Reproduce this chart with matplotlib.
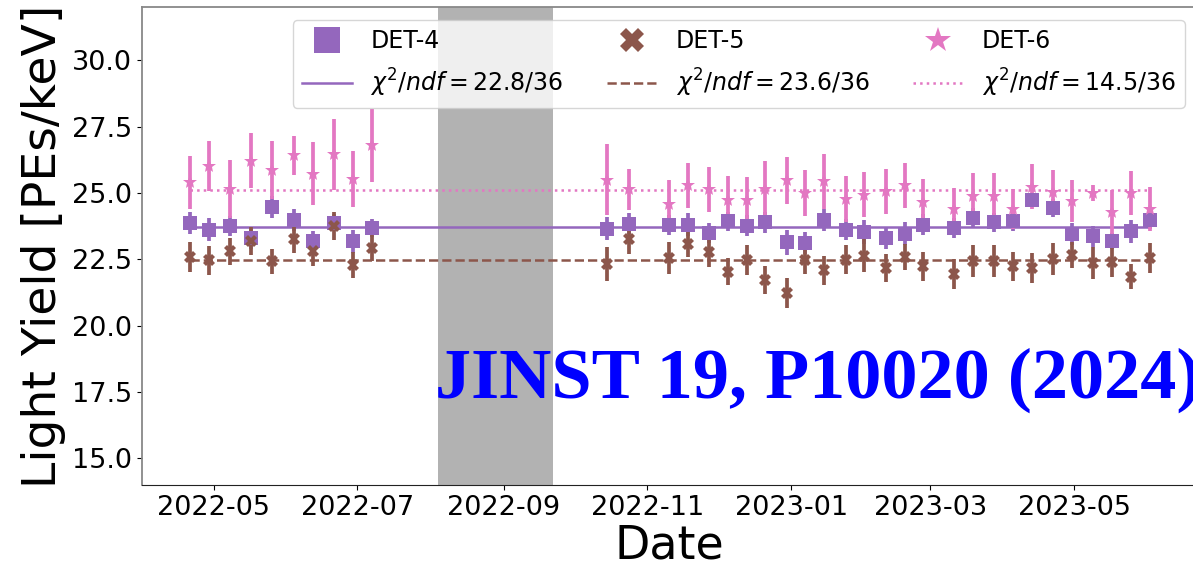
import numpy as np
import pandas as pd
import matplotlib
matplotlib.use('Agg')
from matplotlib import pyplot as plt
import matplotlib.dates as mdates
from matplotlib.lines import Line2D

# measurement dates (two campaigns, gap during the maintenance period)
dates = [
    '2022-04-21', '2022-04-29', '2022-05-08', '2022-05-17', '2022-05-26',
    '2022-06-04', '2022-06-12', '2022-06-21', '2022-06-29', '2022-07-07',
    '2022-10-15', '2022-10-24', '2022-11-10', '2022-11-18', '2022-11-27',
    '2022-12-05', '2022-12-13', '2022-12-21', '2022-12-30', '2023-01-07',
    '2023-01-15', '2023-01-24', '2023-02-01', '2023-02-10', '2023-02-18',
    '2023-02-26', '2023-03-11', '2023-03-19', '2023-03-28', '2023-04-05',
    '2023-04-13', '2023-04-22', '2023-04-30', '2023-05-09', '2023-05-17',
    '2023-05-25', '2023-06-02',
]

det4 = [23.87, 23.62, 23.74, 23.30, 24.47, 23.99, 23.18, 23.87, 23.18, 23.68,
        23.65, 23.84, 23.78, 23.80, 23.49, 23.93, 23.77, 23.89, 23.14, 23.11,
        23.99, 23.62, 23.53, 23.30, 23.46, 23.80, 23.68, 24.06, 23.89, 23.93,
        24.75, 24.43, 23.45, 23.36, 23.18, 23.55, 23.99]
det4_err = [0.41, 0.44, 0.38, 0.40, 0.41, 0.41, 0.38, 0.32, 0.44, 0.35,
            0.44, 0.39, 0.38, 0.44, 0.38, 0.35, 0.38, 0.40, 0.46, 0.42,
            0.41, 0.38, 0.44, 0.42, 0.44, 0.40, 0.38, 0.36, 0.35, 0.36,
            0.24, 0.35, 0.40, 0.38, 0.31, 0.44, 0.35]

det5 = [22.58, 22.46, 22.80, 23.18, 22.42, 23.26, 22.80, 23.74, 22.29, 22.92,
        22.33, 23.26, 22.55, 23.07, 22.76, 22.04, 22.46, 21.73, 21.22, 22.48,
        22.08, 22.48, 22.63, 22.17, 22.58, 22.23, 21.95, 22.42, 22.42, 22.23,
        22.17, 22.51, 22.67, 22.36, 22.38, 21.85, 22.55]
det5_err = [0.57, 0.54, 0.50, 0.52, 0.47, 0.53, 0.57, 0.53, 0.50, 0.50,
            0.63, 0.57, 0.61, 0.48, 0.54, 0.50, 0.57, 0.52, 0.57, 0.55,
            0.55, 0.55, 0.62, 0.54, 0.50, 0.53, 0.57, 0.60, 0.60, 0.55,
            0.57, 0.60, 0.50, 0.60, 0.54, 0.47, 0.57]

det6 = [25.40, 26.03, 25.15, 26.22, 25.86, 26.41, 25.73, 26.45, 25.53, 26.79,
        25.50, 25.13, 24.60, 25.28, 25.13, 24.75, 24.75, 25.15, 25.48, 25.00,
        25.44, 24.77, 24.94, 25.06, 25.28, 24.65, 24.40, 24.90, 24.90, 24.40,
        25.23, 25.03, 24.69, 25.00, 24.27, 25.00, 24.40]
det6_err = [1.00, 0.94, 1.10, 1.04, 1.08, 0.74, 1.18, 1.35, 1.06, 1.37,
            1.33, 0.76, 0.90, 0.86, 0.86, 0.88, 0.86, 1.07, 0.89, 0.86,
            1.04, 0.85, 0.85, 0.84, 0.85, 0.88, 0.80, 0.84, 0.84, 0.76,
            0.84, 0.84, 0.80, 0.31, 0.85, 0.84, 0.84]

# constant fit results
fit_values = [23.72, 22.48, 25.10]
chi2 = ['22.8', '23.6', '14.5']
ndf = 36

# detector off period
gap_start, gap_end = '2022-08-04', '2022-09-22'

names = ['DET-4', 'DET-5', 'DET-6']
colors = ['#9467bd', '#8c564b', '#e377c2']
markers = ['s', 'X', '*']
msizes = [9.5, 8.5, 10.5]
legend_ms = [18.5, 17, 19]
linestyles = ['-', '--', ':']

t = pd.to_datetime(dates)
series = [(det4, det4_err), (det5, det5_err), (det6, det6_err)]

fig = plt.figure(figsize=(11.93, 5.67), dpi=100)
ax = fig.add_axes([0.119, 0.1446, 0.885, 0.843])

ax.axvspan(pd.Timestamp(gap_start), pd.Timestamp(gap_end), color='gray', alpha=0.6, lw=0)

handles = []
labels = []
for (vals, errs), name, c, m, ms, lms, ls, fv, cs in zip(series, names, colors, markers, msizes,
                                                           legend_ms, linestyles, fit_values, chi2):
    ax.errorbar(t, vals, yerr=errs, fmt=m, color=c, ms=ms, elinewidth=2.7,
                capsize=0, mew=0)
    ax.plot(t, [fv] * len(t), ls=ls, color=c, lw=1.8)
    handles.append(Line2D([], [], marker=m, ls='none', color=c, mew=0, ms=lms))
    labels.append(name)
    handles.append(Line2D([], [], ls=ls, color=c, lw=1.8))
    labels.append(r'$\chi^2/ndf = %s/%d$' % (cs, ndf))

ax.set_ylim(14.0, 32.0)
ax.set_yticks(np.arange(15.0, 30.1, 2.5))
ax.yaxis.set_major_formatter(matplotlib.ticker.FormatStrFormatter('%.1f'))
ax.xaxis.set_major_locator(mdates.MonthLocator(bymonth=[1, 3, 5, 7, 9, 11]))
ax.xaxis.set_major_formatter(mdates.DateFormatter('%Y-%m'))
ax.tick_params(axis='both', labelsize=19.5)

ax.set_xlabel('Date', fontsize=33, labelpad=2)
ax.set_ylabel('Light Yield [PEs/keV]', fontsize=34, labelpad=4)

for side in ['top', 'left', 'right']:
    ax.spines[side].set_color('#888888')
    ax.spines[side].set_linewidth(1.3)
ax.spines['bottom'].set_color('#222222')

ax.legend(handles, labels, ncol=3, loc='upper right', fontsize=17,
          columnspacing=1.85, handlelength=2.1, handletextpad=0.8,
          labelspacing=0.55, borderaxespad=0.55)

fig.text(0.3646, 0.298, 'JINST 19, P10020 (2024)', color='#0000ff',
         fontsize=52, fontweight='bold', family='Liberation Serif',
         ha='left', va='baseline')

fig.savefig('out.png', dpi=100)
